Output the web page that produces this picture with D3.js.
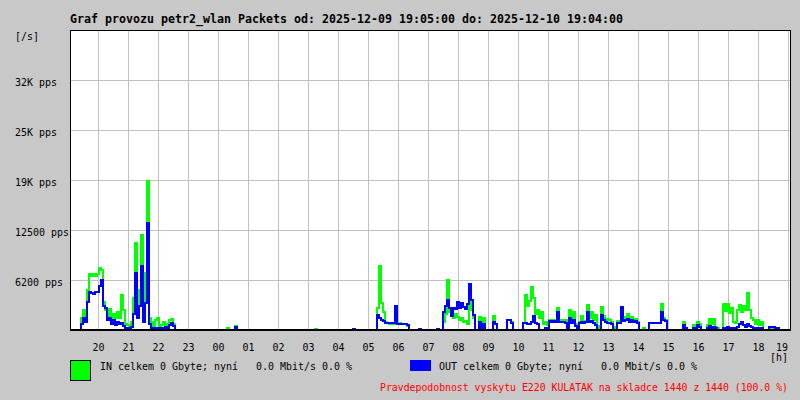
<!DOCTYPE html>
<html><head><meta charset="utf-8">
<script src="https://cdn.jsdelivr.net/npm/d3@7"></script>
<style>
html,body{margin:0;padding:0;background:#c8c8c8;}
svg{display:block;}
text{font-family:"DejaVu Sans Mono",monospace;}
</style></head><body>
<svg id="chart" width="800" height="400"></svg>
<script>
const TITLE = "Graf provozu petr2_wlan Packets od: 2025-12-09 19:05:00 do: 2025-12-10 19:04:00";
const START = new Date(2025, 11, 9, 19, 4, 0);
const END = new Date(2025, 11, 10, 19, 4, 0);
const STEP_MIN = 4;
const hourLabels = ["20","21","22","23","00","01","02","03","04","05","06","07","08","09","10","11","12","13","14","15","16","17","18","19"];
const yMax = 37500;
const yTickValues = [6250, 12500, 18750, 25000, 31250];
const yTickLabels = ["6200 pps", "12500 pps", "19K pps", "25K pps", "32K pps"];
const yUnit = "[/s]";
const xUnit = "[h]";
const legendIn = "IN celkem 0 Gbyte; nyní   0.0 Mbit/s 0.0 %";
const legendOut = "OUT celkem 0 Gbyte; nyní   0.0 Mbit/s 0.0 %";
const footer = "Pravdepodobnost vyskytu E220 KULATAK na skladce 1440 z 1440 (100.0 %)";

// IN packets/s, one value per 4 minutes
const inValues = [
0,0,0,0,0,1500,2500,1800,5000,7000,
6800,7000,6700,7000,7700,7500,3500,2500,1800,2600,
1200,2000,1500,2200,1500,4400,2500,800,600,400,
1000,4000,10900,2500,5000,11900,2000,7100,18600,1500,
1000,500,1200,1500,400,600,1000,500,800,1200,
1400,700,0,0,0,0,0,0,0,0,
0,0,0,0,0,0,0,0,0,0,
0,0,0,0,0,0,0,0,300,0,
0,0,500,0,0,0,0,0,0,0,
0,0,0,0,0,0,0,0,0,0,
0,0,0,0,0,0,0,0,0,0,
0,0,0,0,0,0,0,0,0,0,
0,0,150,0,0,0,0,0,0,0,
0,0,0,0,0,0,0,0,0,0,
0,0,0,0,0,0,0,0,0,0,
0,0,0,2700,8000,3400,2300,1000,900,800,
900,800,3000,900,900,800,800,700,500,0,
0,0,0,0,100,0,0,0,0,0,
0,0,0,100,0,0,1000,2000,6300,2200,
1800,1500,2000,1600,1300,1500,1000,1100,800,5700,
2500,1500,0,0,1600,0,1500,0,0,0,
0,1700,800,0,0,0,0,0,1200,1200,
1000,0,0,0,0,0,900,4400,3000,3600,
5400,4000,2000,2500,1500,2200,800,1000,600,1300,
1200,1300,1200,2700,1300,1200,1100,1300,0,2500,
1000,2200,700,300,1000,1800,1100,1000,3100,1500,
2200,1200,1900,300,500,2900,1800,1300,1400,1200,
1000,400,200,1100,1000,2900,1500,1600,2000,1300,
1600,1200,1400,1000,0,0,300,0,0,900,
900,900,900,900,900,3300,1500,1300,0,0,
0,0,0,0,0,0,1000,300,0,0,
0,600,0,1000,800,0,0,0,600,1400,
800,1400,400,300,0,0,3300,2400,3300,2100,
2800,1000,900,2500,3100,2200,3000,2500,4600,2500,
1500,1200,800,1200,600,1000,0,0,0,300,
300,300,300,200,0,0,0,0,0,0
];

// OUT packets/s, one value per 4 minutes
const outValues = [
0,0,0,0,0,800,1500,1000,3500,4800,
4600,4500,4700,4800,5500,6200,3000,2800,1200,1500,
800,1200,600,1000,700,900,500,300,0,200,
400,2000,7100,1500,3000,8000,1000,3400,13400,800,
300,200,300,200,0,300,200,400,200,600,
900,500,0,0,0,0,0,0,0,0,
0,0,0,0,0,0,0,0,0,0,
0,0,0,0,0,0,0,0,0,0,
0,0,400,0,0,0,0,0,0,0,
0,0,0,0,0,0,0,0,0,0,
0,0,0,0,0,0,0,0,0,0,
0,0,0,0,0,0,0,0,0,0,
0,0,0,0,0,0,0,0,0,0,
0,0,0,0,0,0,0,0,0,0,
0,150,0,0,0,0,0,0,0,0,
0,0,0,1900,1500,1200,1100,900,900,900,
900,900,3000,800,800,800,800,700,600,0,
0,0,0,0,100,0,0,0,0,0,
0,0,0,100,0,0,2300,3000,3700,2700,
1800,2800,2600,3500,2800,3400,2900,2600,3200,5700,
3700,1900,0,0,1000,0,800,0,0,0,
0,1000,700,0,0,0,0,0,1200,1200,
900,0,0,0,0,0,900,900,800,700,
1000,1700,900,800,0,0,0,300,0,1100,
1000,1100,1000,2300,1000,1000,1000,900,0,1500,
900,1200,500,0,900,1000,900,1000,2300,1000,
1100,900,600,0,0,1900,1200,1000,900,900,
800,0,0,900,900,2900,1100,1200,1400,1000,
1200,1000,1100,900,0,0,0,0,0,900,
900,900,900,900,900,2300,1200,1100,0,0,
0,0,0,0,0,0,600,200,0,0,
0,200,0,600,400,0,0,0,300,500,
300,400,200,0,0,0,300,300,400,300,
300,200,300,400,700,1000,600,400,800,500,
400,300,200,300,200,300,0,0,0,400,
400,400,300,300,0,0,0,0,0,0
];

const svg = d3.select("#chart");
const L = 70, R = 790, T = 30, B = 330;

const x = d3.scaleTime().domain([START, END]).range([L, R]);
const y = d3.scaleLinear().domain([0, yMax]).range([B, T]);

const times = inValues.map((_, i) => d3.timeMinute.offset(START, i * STEP_MIN + 1));

function txt(s, px, py, opts = {}) {
  const n = s.length;
  const cw = opts.cw || 6;
  return svg.append("text")
    .attr("x", px).attr("y", py)
    .attr("font-size", opts.size || 11)
    .attr("font-weight", opts.bold ? "bold" : null)
    .attr("fill", opts.fill || "#000")
    .attr("text-anchor", opts.anchor || "start")
    .attr("textLength", opts.len || n * cw)
    .attr("lengthAdjust", "spacingAndGlyphs")
    .style("white-space", "pre")
    .text(s);
}

// plot background
svg.append("rect").attr("x", L).attr("y", T).attr("width", R - L).attr("height", B - T).attr("fill", "#fff");

// grid
const hours = d3.timeHour.range(d3.timeHour.ceil(START), END);
svg.append("g").selectAll("line").data(hours).join("line")
  .attr("x1", d => Math.round(x(d)) + 0.5).attr("x2", d => Math.round(x(d)) + 0.5)
  .attr("y1", T).attr("y2", B)
  .attr("stroke", "#c0c0c0").attr("stroke-width", 1);
svg.append("g").selectAll("line").data(yTickValues).join("line")
  .attr("x1", L).attr("x2", R)
  .attr("y1", d => Math.round(y(d)) + 0.5).attr("y2", d => Math.round(y(d)) + 0.5)
  .attr("stroke", "#c0c0c0").attr("stroke-width", 1);

// series
const line = vals => d3.line()
  .x((d, i) => x(times[i]))
  .y(d => Math.round(y(d)))
  .curve(d3.curveStepAfter)(vals);

svg.append("path").attr("d", line(inValues))
  .attr("fill", "none").attr("stroke", "#00ff00").attr("stroke-width", 2)
  .attr("shape-rendering", "crispEdges");
svg.append("path").attr("d", line(outValues))
  .attr("fill", "none").attr("stroke", "#0000ff").attr("stroke-width", 2)
  .attr("shape-rendering", "crispEdges");

// frame
svg.append("line").attr("x1", L).attr("x2", R + 1).attr("y1", T + 0.5).attr("y2", T + 0.5).attr("stroke", "#000");
svg.append("line").attr("x1", R + 0.5).attr("x2", R + 0.5).attr("y1", T).attr("y2", B).attr("stroke", "#000");
svg.append("line").attr("x1", L + 0.5).attr("x2", L + 0.5).attr("y1", T).attr("y2", B).attr("stroke", "#000");
svg.append("line").attr("x1", L).attr("x2", R + 1).attr("y1", B).attr("y2", B).attr("stroke", "#000").attr("stroke-width", 2);

// title
txt(TITLE, 70, 23, {size: 12, bold: true, cw: 7});

// y labels
txt(yUnit, 15, 40);
yTickValues.forEach((v, i) => txt(yTickLabels[i], 15, Math.round(y(v)) + 6));

// x labels (last one kept inside the frame)
hours.forEach((h, i) => {
  const cx = Math.round(x(h)) + 0.5;
  if (cx + 6 > R) txt(hourLabels[i], R - 2, 351, {anchor: "end", size: 10.5});
  else txt(hourLabels[i], cx, 351, {anchor: "middle"});
});
txt(xUnit, 770, 360.5, {size: 10.5});

// legend
svg.append("rect").attr("x", 70.5).attr("y", 360.5).attr("width", 20).attr("height", 20)
  .attr("fill", "#00ff00").attr("stroke", "#000").attr("stroke-width", 1);
txt(legendIn, 100, 370);
svg.append("rect").attr("x", 410).attr("y", 360).attr("width", 21).attr("height", 11).attr("fill", "#0000ff");
txt(legendOut, 439, 370);

txt(footer, 380, 391, {fill: "#ff0000", len: 408, size: 10});
</script>
</body></html>
